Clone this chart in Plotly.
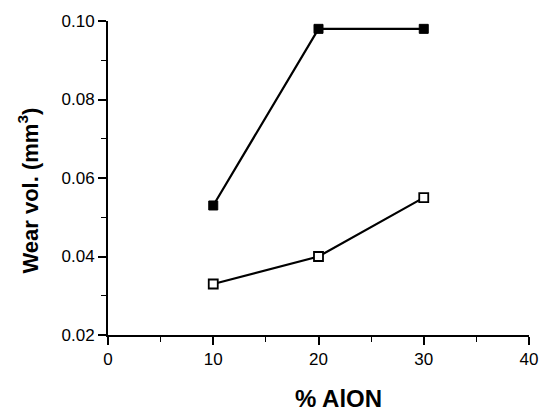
import plotly.graph_objects as go

aluminium_pct = [10, 20, 30]
wear_filled = [0.053, 0.098, 0.098]
wear_open = [0.033, 0.040, 0.055]

x_ticks = [0, 10, 20, 30, 40]
y_ticks = [0.02, 0.04, 0.06, 0.08, 0.10]
y_tick_text = ["0.02", "0.04", "0.06", "0.08", "0.10"]

fig = go.Figure()
fig.add_trace(go.Scatter(
    x=aluminium_pct, y=wear_filled, mode="lines+markers",
    line=dict(color="black", width=2.2),
    marker=dict(symbol="square", size=9, color="black", line=dict(color="black", width=1)),
    showlegend=False))
fig.add_trace(go.Scatter(
    x=aluminium_pct, y=wear_open, mode="lines+markers",
    line=dict(color="black", width=2.2),
    marker=dict(symbol="square", size=9, color="white", line=dict(color="black", width=1.8)),
    showlegend=False))

font_family = "Liberation Sans, Arial, Helvetica, sans-serif"
fig.update_layout(
    width=550, height=411,
    margin=dict(l=108, r=12, t=20, b=76),
    paper_bgcolor="white", plot_bgcolor="white",
    font=dict(family=font_family, color="black", size=17),
    xaxis=dict(
        range=[0, 40], tickvals=x_ticks, ticks="outside", ticklen=8, tickwidth=1.5,
        tickcolor="black", showline=True, linecolor="black", linewidth=2,
        showgrid=False, zeroline=False, tickfont=dict(size=17),
        minor=dict(ticks="outside", ticklen=5, tickwidth=1.2, tickcolor="black", dtick=5, tick0=0),
    ),
    yaxis=dict(
        range=[0.02, 0.10], tickvals=y_ticks, ticktext=y_tick_text, ticks="outside",
        ticklen=8, tickwidth=1.5, tickcolor="black", showline=True, linecolor="black",
        linewidth=2, showgrid=False, zeroline=False, tickfont=dict(size=17),
        minor=dict(ticks="outside", ticklen=5, tickwidth=1.2, tickcolor="black", dtick=0.01, tick0=0.02),
    ),
    annotations=[
        dict(text="<b>% AlON</b>", xref="paper", yref="paper", x=0.547, y=-0.203,
             xanchor="center", yanchor="middle", showarrow=False, font=dict(size=24)),
        dict(text="<b>Wear vol. (mm<sup>3</sup>)</b>", xref="paper", yref="paper",
             x=-0.19, y=0.46, xanchor="center", yanchor="middle", textangle=-90,
             showarrow=False, font=dict(size=22)),
    ],
)

fig.write_html("out.html")
